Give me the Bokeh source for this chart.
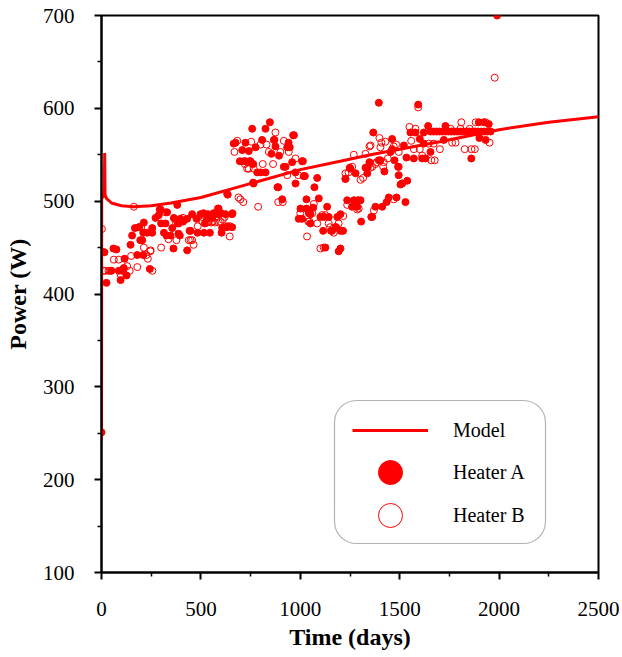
from bokeh.plotting import figure
from bokeh.models import (ColumnDataSource, Range1d, FixedTicker, Legend, LegendItem,
                          BoxAnnotation)
from bokeh.embed import file_html
from bokeh.resources import INLINE

# ---------------- data ----------------
model_days = [0, 1, 8, 14, 16, 18, 25, 50, 100, 160, 250, 350, 500, 650, 800,
              1000, 1200, 1353, 1500, 1700, 2000, 2250, 2500]
model_power = [242, 503, 505, 506, 552, 507, 503, 498, 495, 494, 495, 498, 504, 513, 522,
               534, 543, 550, 556, 564, 577, 585, 591]

heater_a = [
    (0, 251), (2, 507), (8, 445), (15, 445), (25, 412), (50, 425), (60, 449), (75, 448),
    (87, 425), (96, 415), (104, 425), (112, 428), (116, 438), (126, 420), (146, 453),
    (154, 463), (168, 471), (180, 442), (188, 472), (195, 458), (205, 458), (210, 442),
    (213, 477), (210, 466), (230, 466), (243, 427), (255, 466), (255, 471), (272, 482),
    (288, 485), (293, 491), (297, 491), (300, 476), (314, 466), (322, 476), (327, 463),
    (330, 488), (347, 463), (356, 471), (362, 449), (364, 482), (381, 496), (384, 476),
    (387, 465), (394, 463), (397, 481), (411, 478), (431, 481), (431, 447), (443, 468),
    (448, 468), (456, 486), (478, 481), (483, 466), (498, 486), (513, 487), (515, 466),
    (520, 476), (531, 481), (535, 486), (545, 466), (557, 482), (563, 487), (573, 486),
    (589, 492), (590, 486), (602, 487), (604, 466), (607, 471), (624, 486), (632, 508),
    (632, 472), (635, 507), (657, 472), (657, 486), (659, 487),
    (665, 562), (674, 563), (696, 543), (708, 555), (716, 543), (724, 543), (724, 563),
    (741, 554), (746, 543), (749, 543), (758, 578), (763, 540), (763, 520), (765, 519),
    (775, 558), (783, 531), (800, 531), (808, 566), (825, 578), (825, 531), (847, 585),
    (855, 551), (867, 566), (870, 566), (875, 559), (885, 515), (889, 515), (893, 549),
    (909, 502), (917, 537), (926, 537), (934, 558), (941, 563), (947, 558), (959, 542),
    (964, 571), (968, 571), (976, 531), (976, 519),
    (992, 481), (1001, 492), (1009, 543), (1013, 543), (1017, 527), (1009, 481),
    (1023, 527), (1031, 502), (1031, 492), (1043, 487), (1051, 486), (1051, 476),
    (1065, 493), (1071, 515), (1085, 525), (1093, 503), (1101, 483), (1115, 468),
    (1118, 483), (1126, 450), (1135, 494), (1143, 483), (1155, 468), (1160, 468),
    (1177, 472), (1186, 483), (1193, 446), (1202, 468), (1202, 449), (1202, 486),
    (1215, 468),
    (1227, 524), (1236, 501), (1249, 536), (1252, 535), (1260, 494), (1270, 501),
    (1278, 530), (1286, 494), (1290, 501), (1303, 501), (1306, 478), (1328, 536),
    (1337, 530), (1340, 537), (1348, 542), (1357, 483), (1362, 483), (1367, 574),
    (1378, 494), (1395, 606), (1395, 544), (1403, 544), (1412, 494), (1423, 532),
    (1434, 499), (1445, 504), (1454, 553), (1462, 567), (1462, 556), (1474, 544),
    (1484, 504), (1492, 537), (1495, 528), (1504, 518), (1512, 519), (1521, 560),
    (1529, 499), (1534, 547), (1538, 522),
    (1554, 574), (1571, 546), (1579, 574), (1593, 604), (1601, 567), (1613, 546),
    (1621, 574), (1621, 562), (1630, 546), (1643, 581), (1655, 553), (1655, 575),
    (1670, 575), (1685, 575), (1700, 575), (1715, 575), (1722, 566), (1730, 581),
    (1730, 575), (1745, 575), (1760, 575), (1775, 575), (1790, 575), (1805, 575),
    (1820, 575), (1835, 575), (1850, 575), (1860, 546), (1865, 575), (1880, 575),
    (1895, 575), (1898, 585), (1901, 568), (1910, 575), (1923, 585), (1925, 575),
    (1932, 566), (1940, 575), (1948, 583), (1957, 575), (1990, 700),
]

heater_b = [
    (2, 470), (10, 425), (20, 425), (35, 425), (45, 425), (62, 437), (87, 437), (96, 421),
    (129, 430), (142, 425), (149, 441), (163, 494), (180, 429), (190, 472), (200, 472),
    (213, 450), (226, 442), (233, 438), (246, 446), (256, 425), (247, 447), (300, 450),
    (322, 488), (337, 459), (367, 481), (375, 476), (377, 458), (390, 476), (400, 479),
    (410, 482), (439, 458), (448, 458), (456, 458), (463, 453), (484, 473), (506, 483),
    (508, 478), (531, 477), (540, 478), (551, 477), (560, 478), (571, 477), (585, 492),
    (590, 477), (598, 478), (610, 480), (620, 483), (624, 472), (634, 473), (645, 462),
    (645, 473),
    (669, 553), (683, 565), (689, 504), (699, 502), (713, 499), (721, 540), (733, 535),
    (741, 535), (753, 564), (766, 535), (788, 494), (800, 561), (811, 540), (830, 561),
    (842, 553), (863, 540), (875, 574), (889, 499), (900, 553), (912, 499), (917, 565),
    (934, 528), (942, 553), (976, 546), (990, 528),
    (1000, 487), (1034, 462), (1040, 478), (1046, 478), (1060, 487), (1068, 497),
    (1085, 476), (1101, 449), (1110, 485), (1118, 450), (1126, 485), (1143, 476),
    (1150, 472), (1168, 466), (1180, 472), (1193, 476), (1216, 484),
    (1227, 530), (1227, 524), (1236, 496), (1243, 531), (1261, 537), (1269, 550),
    (1286, 491), (1294, 492), (1303, 523), (1316, 525), (1328, 551), (1348, 559),
    (1353, 560), (1353, 536), (1362, 537), (1370, 490), (1378, 540), (1384, 542),
    (1398, 568), (1403, 558), (1408, 563), (1417, 537), (1420, 542), (1428, 564),
    (1440, 546), (1470, 559), (1470, 502), (1482, 561), (1495, 553), (1495, 537),
    (1512, 519), (1549, 580),
    (1558, 565), (1571, 556), (1579, 578), (1593, 601), (1601, 556), (1613, 549),
    (1646, 562), (1659, 544), (1671, 562), (1676, 544), (1702, 556), (1755, 578),
    (1764, 563), (1781, 563), (1806, 578), (1810, 585), (1827, 556), (1852, 578),
    (1861, 556), (1878, 556), (1882, 585), (1932, 585), (1952, 563), (1978, 633),
]

x_ticks = [0, 500, 1000, 1500, 2000, 2500]
y_ticks = [100, 200, 300, 400, 500, 600, 700]

# ---------------- figure ----------------
FONT = "Liberation Serif"
RED = "#ff0000"

p = figure(width=622, height=657, output_backend="svg", toolbar_location=None,
           x_range=Range1d(0, 2500), y_range=Range1d(100, 700),
           min_border_left=101, min_border_right=24, min_border_top=15,
           min_border_bottom=85)
p.grid.visible = False
p.background_fill_color = "white"
p.border_fill_color = "white"
p.outline_line_color = "black"
p.outline_line_width = 2

src_a = ColumnDataSource(dict(x=[d for d, _ in heater_a], y=[w for _, w in heater_a]))
src_b = ColumnDataSource(dict(x=[d for d, _ in heater_b], y=[w for _, w in heater_b]))
src_m = ColumnDataSource(dict(x=model_days, y=model_power))

ra = p.scatter("x", "y", source=src_a, size=7, fill_color=RED, line_color=RED,
               line_width=1)
rb = p.scatter("x", "y", source=src_b, size=7, fill_color="white", fill_alpha=0,
               line_color=RED, line_width=1)
rm = p.line("x", "y", source=src_m, line_color=RED, line_width=3)

for ax, ticks in ((p.xaxis[0], x_ticks), (p.yaxis[0], y_ticks)):
    ax.ticker = FixedTicker(ticks=ticks,
                            minor_ticks=[t + (ticks[1] - ticks[0]) / 2 for t in ticks[:-1]])
    ax.axis_line_width = 2
    ax.axis_line_color = "black"
    ax.major_tick_line_width = 2
    ax.minor_tick_line_width = 1.5
    ax.major_tick_in = 0
    ax.minor_tick_in = 0
    ax.major_tick_out = 7
    ax.minor_tick_out = 4
    ax.major_label_text_font = FONT
    ax.major_label_text_font_size = "21px"
    ax.major_label_text_color = "black"
    ax.axis_label_text_font = FONT
    ax.axis_label_text_font_size = "24px"
    ax.axis_label_text_font_style = "bold"
    ax.axis_label_text_color = "black"

p.xaxis.axis_label = "Time (days)"
p.yaxis.axis_label = "Power (W)"
p.xaxis.major_label_standoff = 22
p.xaxis.axis_label_standoff = 5
p.yaxis.major_label_standoff = 20
p.yaxis.axis_label_standoff = 9

# rounded legend frame
box = BoxAnnotation(left=233, right=444, bottom=29, top=172,
                    left_units="screen", right_units="screen",
                    bottom_units="screen", top_units="screen",
                    fill_color="white", fill_alpha=1, line_color="black",
                    line_width=1.2, border_radius=22)
p.add_layout(box)

# one legend per entry so the rows can sit closer than the big glyph size
for label, rend, ypos in (("Model", rm, 112), ("Heater A", ra, 70), ("Heater B", rb, 27)):
    lg = Legend(items=[LegendItem(label=label, renderers=[rend])],
                location=(251, ypos), glyph_width=76, glyph_height=60, spacing=0,
                label_standoff=25, padding=0, margin=0,
                border_line_alpha=0, background_fill_alpha=0,
                label_text_font=FONT, label_text_font_size="20px",
                label_text_color="black")
    p.add_layout(lg)

open("out.html", "w").write(file_html(p, INLINE))
